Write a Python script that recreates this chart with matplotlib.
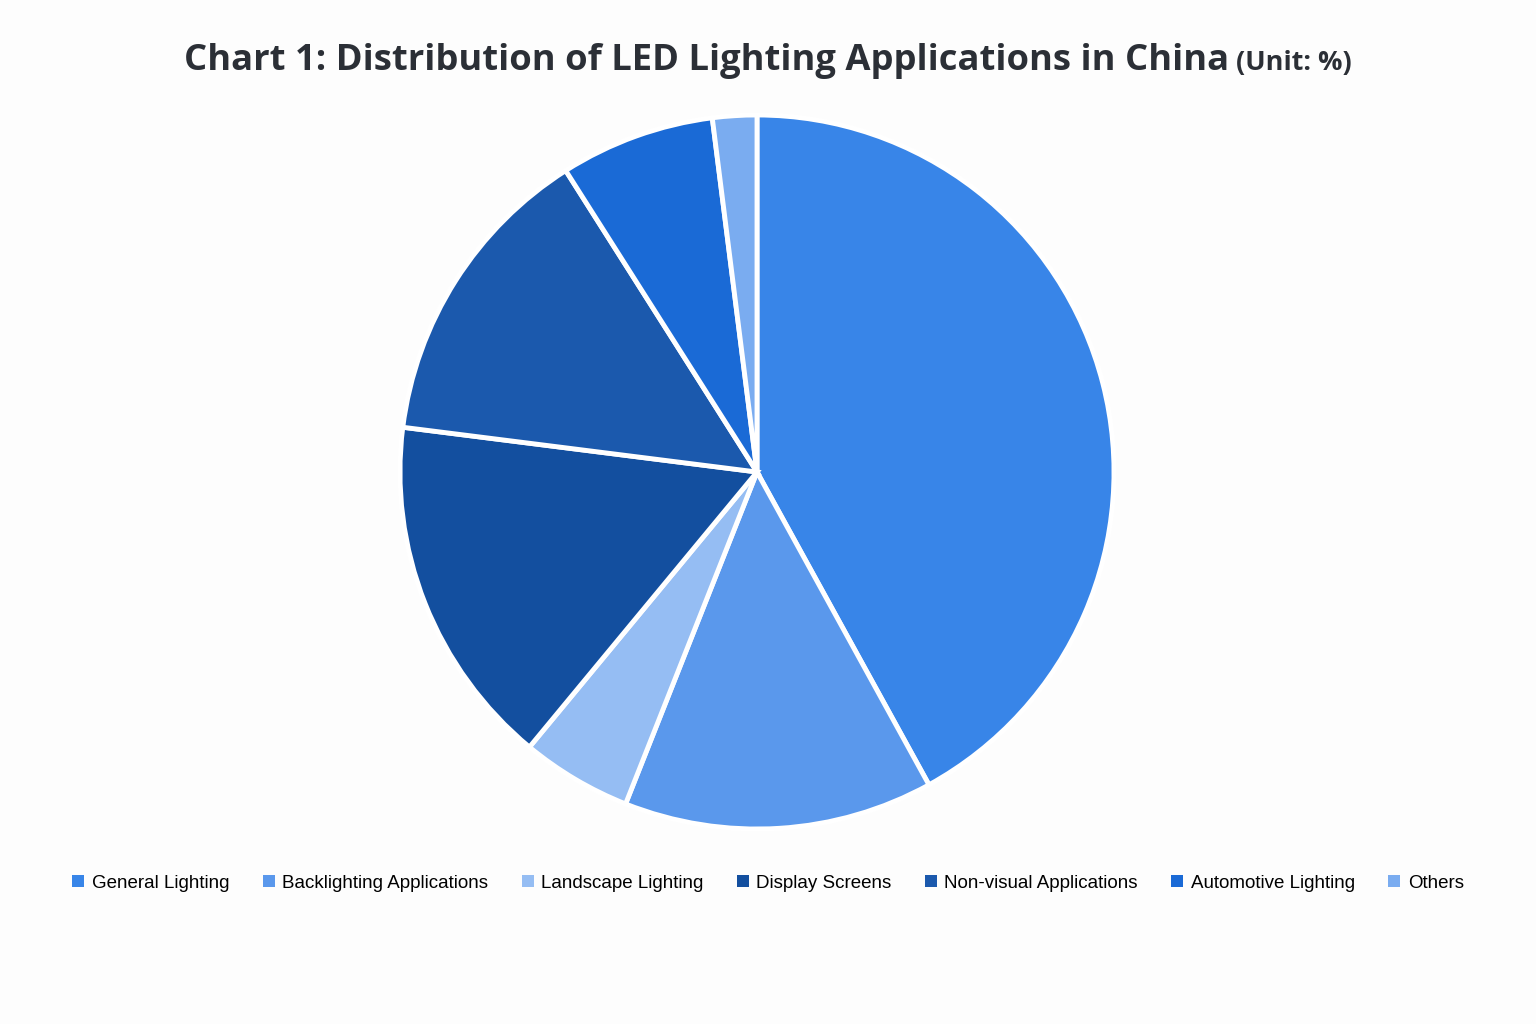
import matplotlib
matplotlib.use("Agg")
import matplotlib.pyplot as plt
from matplotlib.patches import Patch

# LED application shares (%)
categories = ["General Lighting", "Backlighting Applications", "Landscape Lighting",
              "Display Screens", "Non-visual Applications", "Automotive Lighting", "Others"]
shares = [42, 14, 5, 16, 14, 7, 2]
colors = ["#3885e8", "#5a98ec", "#95bdf3", "#134f9f", "#1b59ad", "#1a6ad6", "#7aacf0"]

fig = plt.figure(figsize=(15.36, 10.24), dpi=100)
fig.patch.set_facecolor("#fdfdfd")

W, H = 1536, 1024
cx, cy, r = 757, 472, 357
ax = fig.add_axes([(cx - r) / W, (H - cy - r) / H, 2 * r / W, 2 * r / H])
ax.pie(shares, colors=colors, startangle=90, counterclock=False, radius=1.0,
       wedgeprops=dict(edgecolor="white", linewidth=3.5))
ax.set_xlim(-1.0, 1.0)
ax.set_ylim(-1.0, 1.0)
ax.axis("off")

# title in two parts, sharing a baseline
base = 1 - 70 / H
t1 = fig.text(0, base, "Chart 1: Distribution of LED Lighting Applications in China",
              fontsize=26.2, fontweight="bold", family="Open Sans", color="#2b2f36",
              va="baseline", ha="left")
t2 = fig.text(0, base, " (Unit: %)", fontsize=19.5, fontweight="bold",
              family="Open Sans", color="#2b2f36", va="baseline", ha="left")
fig.canvas.draw()
r_ = fig.canvas.get_renderer()
w1 = t1.get_window_extent(r_).width
w2 = t2.get_window_extent(r_).width
x0 = (W - (w1 + w2)) / 2
t1.set_x(x0 / W)
t2.set_x((x0 + w1) / W)

handles = [Patch(facecolor=c, edgecolor="none") for c in colors]
fig.legend(handles, categories, loc="center", bbox_to_anchor=(0.5, 1 - 883 / H),
           ncol=7, frameon=False, prop=dict(family="Liberation Sans", size=13.5),
           handlelength=0.64, handleheight=0.64, handletextpad=0.4, columnspacing=1.78)

fig.savefig("out.png", dpi=100, facecolor=fig.get_facecolor())
